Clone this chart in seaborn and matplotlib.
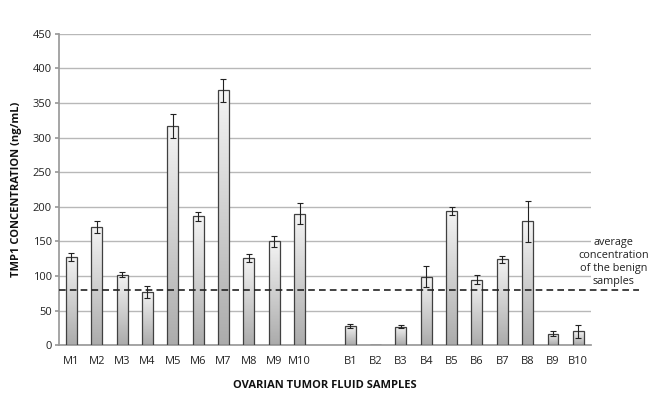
import numpy as np
import pandas as pd
import matplotlib
matplotlib.use("Agg")
import matplotlib.pyplot as plt
from matplotlib.colors import LinearSegmentedColormap
import seaborn as sns

# sample names, values (ng/mL) and error bars
samples = ["M1", "M2", "M3", "M4", "M5", "M6", "M7", "M8", "M9", "M10",
           "B1", "B2", "B3", "B4", "B5", "B6", "B7", "B8", "B9", "B10"]
conc = [128, 171, 102, 77, 317, 186, 368, 126, 150, 190,
        28, 0, 27, 99, 194, 95, 124, 179, 17, 20]
err = [6, 9, 4, 9, 17, 7, 17, 6, 8, 15,
       3, 0, 2, 15, 6, 7, 5, 30, 3, 9]
benign_avg = 80
yticks = [0, 50, 100, 150, 200, 250, 300, 350, 400, 450]

# blank slot between the malignant and benign groups
order = samples[:10] + [" "] + samples[10:]

df = pd.DataFrame({"sample": samples, "conc": conc, "err": err})

sns.set_theme(style="white")
plt.rcParams["font.family"] = ["Open Sans", "DejaVu Sans"]

fig, ax = plt.subplots(figsize=(6.53, 3.96), dpi=100)
fig.subplots_adjust(left=0.09, right=0.905, top=0.915, bottom=0.128)

sns.barplot(data=df, x="sample", y="conc", order=order, errorbar=None,
            width=0.43, facecolor="none", edgecolor="#404040", linewidth=0.9,
            ax=ax, zorder=3)

# gradient fill: light at top, gray at bottom
cmap = LinearSegmentedColormap.from_list("bar", ["#ababab", "#f4f4f4"])
grad = np.linspace(0, 1, 256).reshape(-1, 1)
centers = []
for p in ax.patches:
    x0, w, h = p.get_x(), p.get_width(), p.get_height()
    centers.append(x0 + w / 2)
    if h > 0:
        im = ax.imshow(grad, extent=[x0, x0 + w, 0, h], origin="lower",
                       aspect="auto", cmap=cmap, zorder=2.5)
        im.set_clip_path(p)

# error bars
for xc, v, e in zip(centers, df["conc"], df["err"]):
    if e > 0:
        ax.errorbar(xc, v, yerr=e, fmt="none", ecolor="#222222",
                    elinewidth=0.8, capsize=2.5, capthick=0.8, zorder=4)

ax.set_xlim(-0.5, len(order) - 0.5)
ax.set_ylim(0, 450)
ax.set_yticks(yticks)
ax.yaxis.grid(True, color="#b8b8b8", linewidth=1.0)
ax.set_axisbelow(True)
for s in ["top", "right"]:
    ax.spines[s].set_visible(False)
ax.spines["left"].set_color("#9a9a9a")
ax.spines["bottom"].set_color("#9a9a9a")
ax.tick_params(axis="y", left=True, length=3, color="#9a9a9a",
               labelsize=8, labelcolor="#222222", pad=2)
ax.tick_params(axis="x", bottom=False, labelsize=8, labelcolor="#222222", pad=2)

# average of benign samples, extended past the plot area
ax.axhline(benign_avg, xmin=0, xmax=1.09, color="#222222", linestyle="--",
           linewidth=1.2, dashes=(4, 2.5), clip_on=False, zorder=5)
ax.text(1.042, 0.188, "average\nconcentration\nof the benign\nsamples",
        transform=ax.transAxes, ha="center", va="bottom", fontsize=7.8,
        color="#222222", linespacing=1.25)

ax.set_xlabel("OVARIAN TUMOR FLUID SAMPLES", fontsize=8, fontweight="bold",
              labelpad=9, color="#111111")
ax.set_ylabel("TMP1 CONCENTRATION (ng/mL)", fontsize=8, fontweight="bold",
              labelpad=8, color="#111111")

fig.savefig("out.png", dpi=100, facecolor="white")
